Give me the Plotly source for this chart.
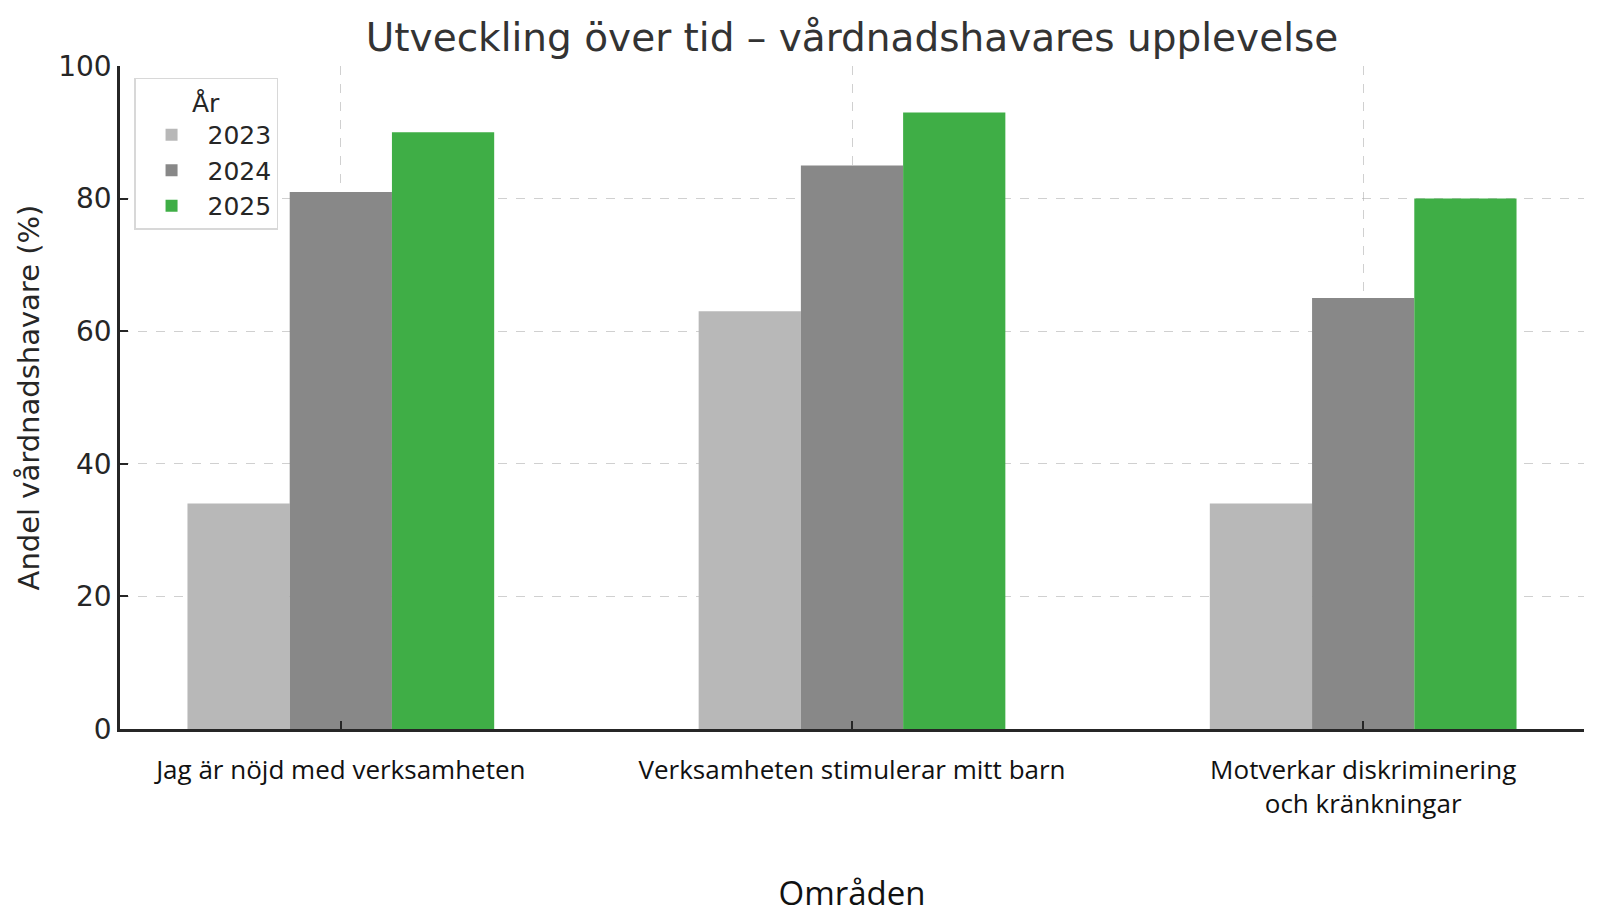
import plotly.graph_objects as go

kategorier = ["Jag är nöjd med verksamheten",
              "Verksamheten stimulerar mitt barn",
              "Motverkar diskriminering<br>och kränkningar"]
ar = ["2023", "2024", "2025"]
varden_2023 = [34, 63, 34]
varden_2024 = [81, 85, 65]
varden_2025 = [90, 93, 80]
farger = ["#b8b8b8", "#888888", "#3fae46"]

serier = [varden_2023, varden_2024, varden_2025]

fig = go.Figure()
for namn, vals, farg in zip(ar, serier, farger):
    fig.add_trace(go.Bar(x=kategorier, y=vals, name=namn,
                         marker=dict(color=farg, line=dict(width=0))))

grid = "rgba(170,170,170,0.55)"

fig.update_layout(
    width=1600, height=924,
    barmode="group", bargap=0.4, bargroupgap=0,
    plot_bgcolor="white", paper_bgcolor="white",
    margin=dict(l=112, r=24, t=58, b=203),
    font=dict(family="DejaVu Sans", color="#262626"),
    title=dict(text="Utveckling över tid – vårdnadshavares upplevelse",
               xref="paper", x=0.5, xanchor="center", y=0.968, yanchor="middle",
               font=dict(size=39, color="#333333")),
    legend=dict(
        title=dict(text="År", side="top center", font=dict(size=25)),
        x=0.0096, y=0.982, xanchor="left", yanchor="top",
        bgcolor="white", bordercolor="#d8d8d8", borderwidth=1.5,
        font=dict(size=25), itemwidth=62,
    ),
)

fig.update_yaxes(
    range=[0, 100], dtick=20,
    showline=True, linecolor="#262626", linewidth=2.5,
    ticks="inside", ticklen=8, tickcolor="#262626", tickwidth=2,
    tickfont=dict(size=28),
    showgrid=True, gridcolor=grid, griddash="dash", gridwidth=1.2,
    zeroline=False,
    title=dict(text="Andel vårdnadshavare (%)", font=dict(size=29), standoff=11),
)
fig.update_xaxes(
    range=[-0.432, 2.432],
    showline=True, linecolor="#262626", linewidth=2.5,
    ticks="inside", ticklen=8, tickcolor="#262626", tickwidth=2,
    tickfont=dict(family="Open Sans", size=26, color="#111111"),
    ticklabelstandoff=16,
    showgrid=True, gridcolor=grid, griddash="dash", gridwidth=1.2,
    title=dict(text="Områden", font=dict(family="Open Sans", size=33, color="#111111"),
               standoff=63),
)

fig.write_html("out.html")
